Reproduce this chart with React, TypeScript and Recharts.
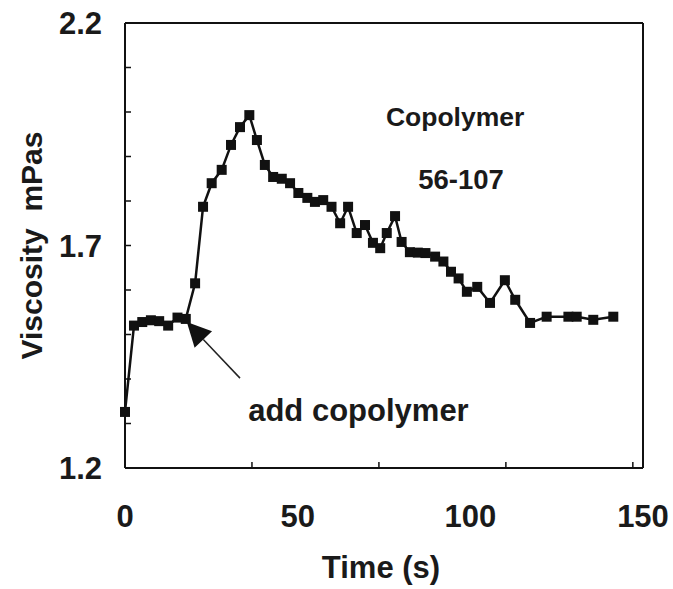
import React from "react"
import {
  LineChart,
  Line,
  XAxis,
  YAxis,
  ReferenceLine,
  ReferenceDot,
} from "recharts"

// values
const time = [
  0, 2.6, 5, 7.5, 9.9, 12.5, 15.2, 17.6, 20.3, 22.6, 25.1, 28, 30.7, 33.3, 36,
  38.2, 40.5, 42.9, 45.4, 47.8, 50.2, 52.8, 55, 57.4, 59.8, 62.3, 64.6, 67.1,
  69.5, 71.8, 73.9, 75.8, 78.2, 80.1, 82.5, 84.8, 87, 89.8, 92.2, 94.4, 96.6,
  99, 102, 105.7, 110, 113, 117.3, 122.1, 128.4, 130.8, 135.6, 141.4,
]
const viscosity = [
  1.326, 1.52, 1.528, 1.532, 1.53, 1.52, 1.538, 1.535, 1.615, 1.787, 1.84,
  1.87, 1.926, 1.966, 1.993, 1.937, 1.881, 1.854, 1.85, 1.84, 1.818, 1.807,
  1.798, 1.802, 1.787, 1.75, 1.787, 1.728, 1.746, 1.706, 1.694, 1.728, 1.766,
  1.708, 1.685, 1.684, 1.683, 1.675, 1.664, 1.641, 1.626, 1.596, 1.607, 1.571,
  1.622, 1.578, 1.526, 1.54, 1.54, 1.54, 1.533, 1.54,
]

const xTicks = [0, 50, 100, 150]
const xMinorTicks = [12.5, 25, 37.5, 50, 62.5, 75, 87.5, 100, 112.5, 125, 137.5]
const yAllTicks = [1.2, 1.3, 1.4, 1.5, 1.6, 1.7, 1.8, 1.9, 2.0, 2.1, 2.2]
const yLabelled = ["1.2", "1.7", "2.2"]

// arrow from the label up to where the copolymer was added
const arrowTail = { t: 33.3, v: 1.402 }
const arrowTip = { t: 17.9, v: 1.528 }

const data = time.map((t, i) => ({ t, v: viscosity[i] }))

const font = "'Liberation Sans', Arial, sans-serif"
const ink = "#1a1a1a"
const yTickMargin = 23

const Square = (props: any) => {
  const { cx, cy, index } = props
  if (cx == null || cy == null) return <g key={index} />
  return <rect key={index} x={cx - 5} y={cy - 5} width={10} height={10} fill="#111" />
}

const NoLabel = () => <g />

// left axis: inward minor ticks, labels only on 1.2 / 1.7 / 2.2
const YTick = (props: any) => {
  const { x, y, payload } = props
  const label = Number(payload.value).toFixed(1)
  const edge = label === "1.2" || label === "2.2"
  const axisX = x + yTickMargin
  return (
    <g>
      {!edge && (
        <line x1={axisX} x2={axisX + 6} y1={y} y2={y} stroke="#111" strokeWidth={1.5} />
      )}
      {yLabelled.includes(label) && (
        <text
          x={x}
          y={y}
          dy="0.36em"
          textAnchor="end"
          fill={ink}
          fontSize={31}
          fontWeight="bold"
          fontFamily={font}
        >
          {label}
        </text>
      )}
    </g>
  )
}

const Arrow = (props: any) => {
  const { x1, y1, x2, y2 } = props
  const dx = x2 - x1
  const dy = y2 - y1
  const len = Math.sqrt(dx * dx + dy * dy) || 1
  const ux = dx / len
  const uy = dy / len
  const bx = x2 - ux * 24
  const by = y2 - uy * 24
  const nx = -uy * 12
  const ny = ux * 12
  return (
    <g>
      <line x1={x1} y1={y1} x2={bx} y2={by} stroke="#222" strokeWidth={1.5} />
      <polygon
        points={`${x2},${y2} ${bx + nx},${by + ny} ${bx - nx},${by - ny}`}
        fill="#111"
      />
    </g>
  )
}

const note = (value: string, size: number) => ({
  value,
  position: "center" as const,
  fill: ink,
  fontSize: size,
  fontWeight: "bold",
  fontFamily: font,
})

export default function App() {
  return (
    <div style={{ position: "absolute", left: 0, top: 0, background: "#fff" }}>
      <LineChart
        width={673}
        height={589}
        data={data}
        margin={{ top: 23, right: 30, bottom: 0, left: 0 }}
      >
        <XAxis
          dataKey="t"
          type="number"
          domain={[0, 150]}
          ticks={xTicks}
          interval={0}
          tickLine={false}
          tickSize={0}
          tickMargin={37}
          height={121}
          axisLine={{ stroke: "#111", strokeWidth: 2 }}
          tick={{ fill: ink, fontSize: 31, fontWeight: "bold", fontFamily: font }}
          label={{
            value: "Time (s)",
            position: "insideBottom",
            offset: 11,
            dx: -3,
            fill: ink,
            fontSize: 31,
            fontWeight: "bold",
            fontFamily: font,
          }}
        />
        <YAxis
          type="number"
          domain={[1.2, 2.2]}
          ticks={yAllTicks}
          interval={0}
          width={125}
          tickLine={false}
          tickSize={0}
          tickMargin={yTickMargin}
          axisLine={{ stroke: "#111", strokeWidth: 2 }}
          tick={YTick}
          label={{
            value: "Viscosity\u00A0\u00A0mPas",
            angle: -90,
            position: "insideLeft",
            offset: 31,
            fill: ink,
            fontSize: 30,
            fontWeight: "bold",
            fontFamily: font,
            style: { textAnchor: "middle" },
          }}
        />
        <XAxis
          xAxisId="minor"
          type="number"
          domain={[0, 150]}
          ticks={xMinorTicks}
          interval={0}
          mirror
          tick={NoLabel}
          axisLine={false}
          tickSize={6}
          tickLine={{ stroke: "#111", strokeWidth: 1.5 }}
        />
        <ReferenceLine y={2.2} stroke="#111" strokeWidth={2} />
        <ReferenceLine x={150} stroke="#111" strokeWidth={2} />
        <Line
          dataKey="v"
          stroke="#111"
          strokeWidth={2.5}
          dot={Square}
          activeDot={false}
          isAnimationActive={false}
        />
        <ReferenceLine
          segment={[
            { x: arrowTail.t, y: arrowTail.v },
            { x: arrowTip.t, y: arrowTip.v },
          ]}
          shape={Arrow}
        />
        <ReferenceDot x={95.6} y={1.99} r={0} stroke="none" label={note("Copolymer", 26.5)} />
        <ReferenceDot x={97.3} y={1.848} r={0} stroke="none" label={note("56-107", 27.5)} />
        <ReferenceDot x={67.6} y={1.33} r={0} stroke="none" label={note("add copolymer", 31)} />
      </LineChart>
    </div>
  )
}
